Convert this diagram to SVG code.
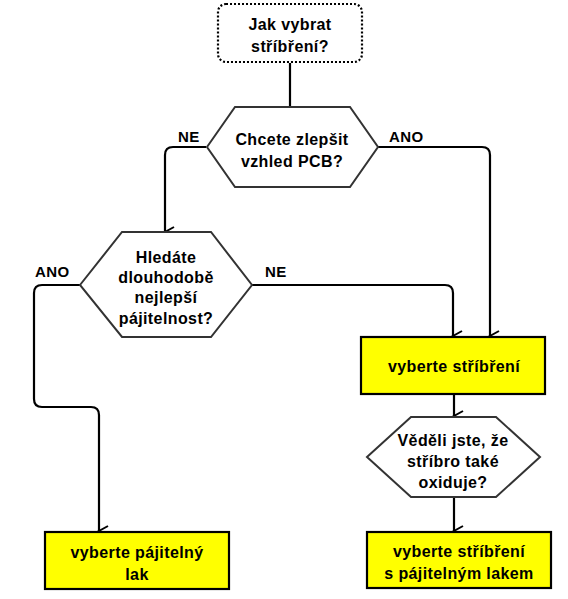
<svg xmlns="http://www.w3.org/2000/svg" width="568" height="599" viewBox="0 0 568 599">
<defs>
<marker id="arr" markerWidth="12" markerHeight="12" viewBox="-6 -10 12 12" refX="0" refY="0" orient="auto" markerUnits="userSpaceOnUse">
<path d="M-5,-9 L0,0 L5,-9" fill="none" stroke="#000" stroke-width="2"/>
</marker>
<style>
text{font-family:"Liberation Sans",Arial,sans-serif;font-weight:bold;font-size:16px;fill:#000;text-anchor:middle;letter-spacing:0.4px}
.lbl{text-anchor:start;font-size:15px}
.hex{fill:#fff;stroke:#333;stroke-width:2}
.box{fill:#ffff00;stroke:#000;stroke-width:2.2}
.conn{fill:none;stroke:#000;stroke-width:2.2}
.start{fill:#fff;stroke:#000;stroke-width:2.2;stroke-dasharray:2 2}
</style>
</defs>
<g id="connectors">
<path class="conn" d="M290,63 L290,107"/>
<path class="conn" d="M206,147 L173,147 Q165,147 165,155 L165,232" marker-end="url(#arr)"/>
<path class="conn" d="M378,147 L482,147 Q490,147 490,155 L490,336" marker-end="url(#arr)"/>
<path class="conn" d="M80,285 L42,285 Q34,285 34,293 L34,399 Q34,407 42,407 L91,407 Q99,407 99,415 L99,531" marker-end="url(#arr)"/>
<path class="conn" d="M252,285 L445,285 Q453,285 453,293 L453,336" marker-end="url(#arr)"/>
<path class="conn" d="M454,394 L454,416" marker-end="url(#arr)"/>
<path class="conn" d="M454,497 L454,531" marker-end="url(#arr)"/>
</g>
<g id="labels">
<text class="lbl" x="178" y="142">NE</text>
<text class="lbl" x="389" y="142">ANO</text>
<text class="lbl" x="35" y="277">ANO</text>
<text class="lbl" x="265" y="277">NE</text>
</g>
<g id="start">
<rect class="start" x="218" y="4" width="144" height="58" rx="8"/>
<text x="290" y="30">Jak vybrat</text>
<text x="290" y="52">stříbření?</text>
</g>
<g id="q1">
<polygon class="hex" points="207,147 235,107 350,107 378,147 350,187 235,187"/>
<text x="292" y="145">Chcete zlepšit</text>
<text x="292" y="167">vzhled PCB?</text>
</g>
<g id="q2">
<polygon class="hex" points="80,285 122,232 211,232 252,285 211,337 122,337"/>
<text x="166" y="263">Hledáte</text>
<text x="166" y="283">dlouhodobě</text>
<text x="166" y="303">nejlepší</text>
<text x="166" y="324">pájitelnost?</text>
</g>
<g id="silver">
<rect class="box" x="361" y="337" width="184" height="57"/>
<text x="454" y="372">vyberte stříbření</text>
</g>
<g id="q3">
<polygon class="hex" points="367,457 411,417 496,417 540,457 496,497 411,497"/>
<text x="453" y="446">Věděli jste, že</text>
<text x="453" y="467">stříbro také</text>
<text x="453" y="488">oxiduje?</text>
</g>
<g id="lacquer">
<rect class="box" x="45" y="532" width="184" height="57"/>
<text x="137" y="558">vyberte pájitelný</text>
<text x="137" y="580">lak</text>
</g>
<g id="silverlak">
<rect class="box" x="367" y="532" width="184" height="56"/>
<text x="459" y="557">vyberte stříbření</text>
<text x="459" y="579">s pájitelným lakem</text>
</g>
</svg>
